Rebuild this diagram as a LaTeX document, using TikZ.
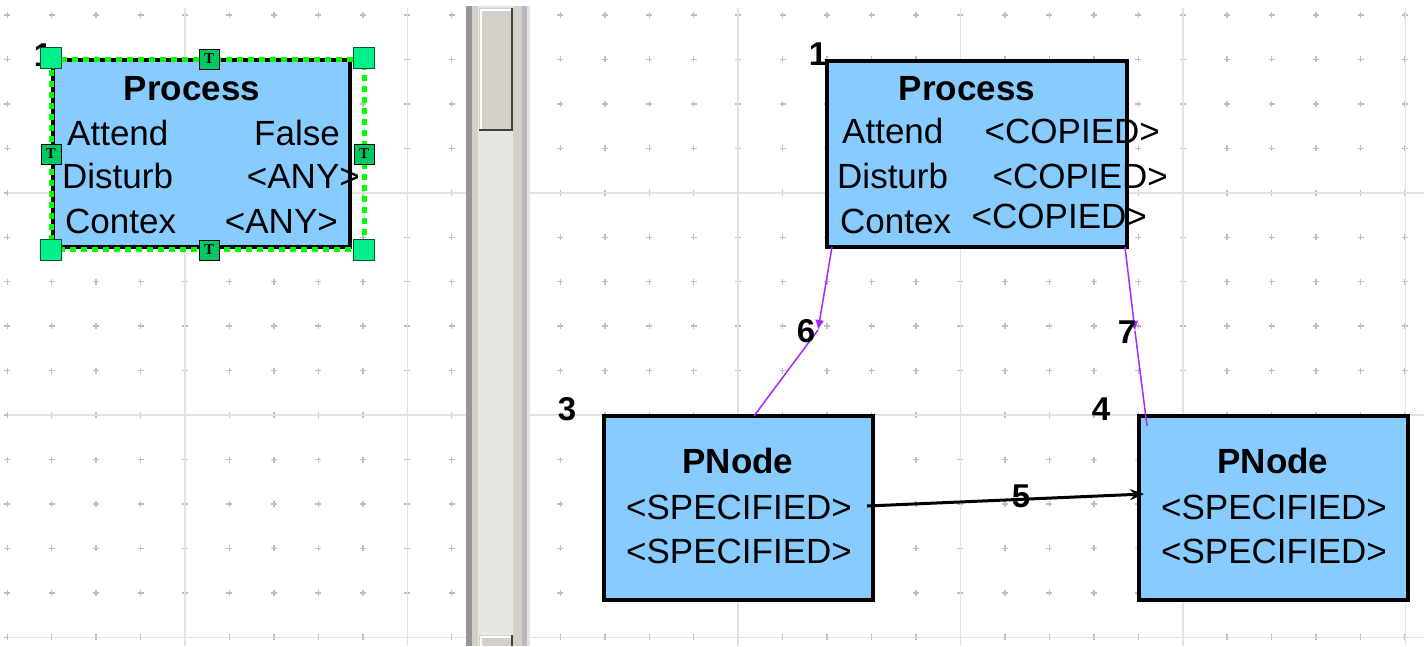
\documentclass[tikz,border=0pt]{standalone}
\usepackage{fontspec}
\setmainfont{Liberation Sans}
\newfontfamily\hfont{Liberation Serif}
\usetikzlibrary{arrows.meta,calc}
\definecolor{boxblue}{RGB}{136,204,255}
\definecolor{gridline}{RGB}{226,226,226}
\definecolor{griddot}{RGB}{190,190,190}
\definecolor{selgreen}{RGB}{0,255,0}
\definecolor{handlegreen}{RGB}{0,240,140}
\definecolor{thandle}{RGB}{0,200,100}
\definecolor{handleedge}{RGB}{0,90,40}
\definecolor{conncol}{RGB}{165,40,255}
\definecolor{sbface}{RGB}{212,208,200}
\definecolor{sbtrack}{RGB}{232,230,226}
\definecolor{sbdark}{RGB}{150,150,150}
\definecolor{sbmid}{RGB}{185,185,185}
\definecolor{sbshadow}{RGB}{64,64,64}
\tikzset{
  pbox/.style={draw=black, line width=4pt, fill=boxblue, inner sep=0pt, outer sep=0pt, anchor=north west},
  txt/.style={inner sep=0pt, font=\fontsize{35}{42}\selectfont},
  ttl/.style={inner sep=0pt, font=\fontsize{35}{42}\selectfont\bfseries, anchor=base},
  num/.style={inner sep=0pt, font=\fontsize{33}{40}\selectfont\bfseries, anchor=base},
  conn/.style={draw=conncol, line width=1.5pt},
  connhead/.style={conn, -{Latex[length=10pt,width=9pt]}},
  blackarrow/.style={draw=black, line width=3pt, -{Stealth[length=14pt,width=11pt]}},
  dotcross/.style={draw=griddot, line width=1.4pt},
  gline/.style={draw=gridline, line width=1.5pt},
  chandle/.style={draw=handleedge, line width=1pt, fill=handlegreen, minimum size=21pt, inner sep=0pt},
  thandlest/.style={draw=black, line width=1pt, fill=thandle, minimum size=20pt, inner sep=0pt, font=\hfont\fontsize{15}{15}\selectfont\bfseries},
  selbox/.style={draw=selgreen, line width=5pt, dash pattern=on 6pt off 5pt}
}
\begin{document}
\begin{tikzpicture}[x=1pt,y=-1pt]
\useasboundingbox (0,0) rectangle (1424,646);
\fill[white] (0,0) rectangle (1424,646);
% ---------- grid, left pane ----------
\foreach \i in {0,...,10}{
  \foreach \j in {0,...,14}{
    \draw[dotcross] (7.2+44.45*\i-3, 15+44.45*\j) -- ++(6,0);
    \draw[dotcross] (7.2+44.45*\i, 15+44.45*\j-3) -- ++(0,6);
  }
}
\foreach \x in {185,407.5}{ \draw[gline] (\x,8) -- (\x,646); }
\foreach \y in {192.8,415,637.3}{ \draw[gline] (8,\y) -- (466,\y); }
% ---------- grid, right pane ----------
\foreach \i in {0,...,19}{
  \foreach \j in {0,...,14}{
    \draw[dotcross] (560.4+44.45*\i-3, 15+44.45*\j) -- ++(6,0);
    \draw[dotcross] (560.4+44.45*\i, 15+44.45*\j-3) -- ++(0,6);
  }
}
\foreach \x in {738,960.3,1183,1405.4}{ \draw[gline] (\x,8) -- (\x,646); }
\foreach \y in {192.8,415,637.3}{ \draw[gline] (530,\y) -- (1424,\y); }
% ---------- scrollbar ----------
\fill[sbdark] (466,6) rectangle (472,646);
\fill[sbface] (472,6) rectangle (478,646);
\fill[sbtrack] (478,6) rectangle (513,646);
\fill[sbface] (513,6) rectangle (522,646);
\fill[sbmid] (522,6) rectangle (527,646);
\fill[gridline] (527,6) rectangle (530,646);
% thumb
\fill[sbface] (479,8) rectangle (513,131);
\draw[white, line width=1.5pt] (481,129) -- (481,10) -- (511,10);
\draw[sbshadow, line width=2.5pt] (479,130) -- (512,130) -- (512,8);
% bottom button
\fill[sbface] (479,635) rectangle (513,646);
\draw[white, line width=1.5pt] (481,646) -- (481,637) -- (511,637);
\draw[sbshadow, line width=2.5pt] (512,635) -- (512,646);
% ---------- left (selected) Process box ----------
\node[num] (lnum1) at (43,66) {1};
\node[pbox, minimum width=297pt, minimum height=187pt] (lbox) at (53,60) {};
\node[ttl] (lttl) at (192,100) {Process};
\node[txt, anchor=base west] (la1) at (67,145) {Attend};
\node[txt, anchor=base east] (lv1) at (340,145) {False};
\node[txt, anchor=base west] (la2) at (62,188) {Disturb};
\node[txt, anchor=base east] (lv2) at (360,188) {<ANY>};
\node[txt, anchor=base west] (la3) at (65,233) {Contex};
\node[txt, anchor=base east] (lv3) at (338,233) {<ANY>};
\draw[selbox] (51,59) rectangle (364,249);
\node[chandle] (h1) at (51,58) {};
\node[chandle] (h2) at (364,58) {};
\node[chandle] (h3) at (51,250) {};
\node[chandle] (h4) at (364,250) {};
\node[thandlest] (h5) at (209,59) {T};
\node[thandlest] (h6) at (51,154) {T};
\node[thandlest] (h7) at (364,154) {T};
\node[thandlest] (h8) at (209,250) {T};
% ---------- right Process box ----------
\node[num] (rnum1) at (818,65) {1};
\node[pbox, minimum width=300pt, minimum height=186pt] (rbox) at (827,61) {};
\node[ttl] (rttl) at (967,100) {Process};
\node[txt, anchor=base west] (ra1) at (842,143) {Attend};
\node[txt, anchor=base east] (rv1) at (1160,143) {<COPIED>};
\node[txt, anchor=base west] (ra2) at (837,188) {Disturb};
\node[txt, anchor=base east] (rv2) at (1168,188) {<COPIED>};
\node[txt, anchor=base west] (ra3) at (840,233) {Contex};
\node[txt, anchor=base east] (rv3) at (1147,228) {<COPIED>};
% ---------- PNode boxes ----------
\node[num] (n3) at (567,420) {3};
\node[pbox, minimum width=269pt, minimum height=184pt] (pl) at (604,416) {};
\node[ttl] (plt) at (738,473) {PNode};
\node[txt, anchor=base] (pl1) at (739,519) {<SPECIFIED>};
\node[txt, anchor=base] (pl2) at (739,563) {<SPECIFIED>};
\node[num] (n4) at (1101,420) {4};
\node[pbox, minimum width=269pt, minimum height=184pt] (pr) at (1139,416) {};
\node[ttl] (prt) at (1273,473) {PNode};
\node[txt, anchor=base] (pr1) at (1274,519) {<SPECIFIED>};
\node[txt, anchor=base] (pr2) at (1274,563) {<SPECIFIED>};
% ---------- connectors ----------
\coordinate (m6) at (818,330);
\coordinate (m7) at (1135,331);
\draw[connhead] ([xshift=5pt]rbox.south west) -- (m6);
\draw[conn] (m6) -- ([xshift=150pt]pl.north west);
\node[num] (n6) at (806,342) {6};
\draw[connhead] ([xshift=-2pt]rbox.south east) -- (m7);
\draw[conn] (m7) -- ([xshift=8pt,yshift=-10pt]pr.north west);
\node[num] (n7) at (1127,343) {7};
\draw[blackarrow] ([xshift=-6pt,yshift=2pt]pl.east) -- ([xshift=5pt,yshift=14pt]pr.west);
\node[num] (n5) at (1021,507) {5};
\end{tikzpicture}
\end{document}
